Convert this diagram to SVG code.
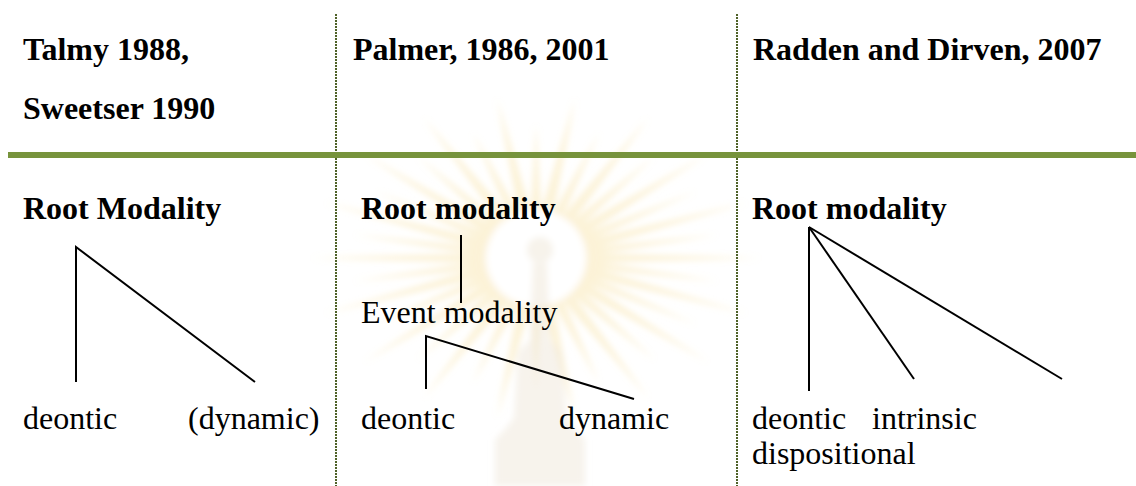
<svg xmlns="http://www.w3.org/2000/svg" width="1136" height="486" viewBox="0 0 1136 486">
  <defs>
    <style>
      .hd{font-family:"Liberation Serif","Times New Roman",serif;font-size:32px;font-weight:bold;fill:#000}
      .tx{font-family:"Liberation Serif","Times New Roman",serif;font-size:32px;fill:#000}
      .br{stroke:#000;stroke-width:2;fill:none}
      .rule{stroke:#4f6228;stroke-width:2;stroke-dasharray:2 1;fill:none}
    </style>
    <filter id="soft" x="-20%" y="-20%" width="140%" height="140%">
      <feGaussianBlur stdDeviation="3"/>
    </filter>
    <path id="rayL" d="M46,-7 L225,0 L46,7 Z"/>
    <path id="rayS" d="M46,-6 L185,0 L46,6 Z"/>
  </defs>

  <rect width="1136" height="486" fill="#ffffff"/>

  <!-- faint background emblem: sunburst with a spire -->
  <g id="emblem" filter="url(#soft)">
    <g transform="translate(536,258) scale(1,0.72)" fill="#f8e3a6" opacity="0.45">
      <use href="#rayL" transform="rotate(0)"/>
      <use href="#rayS" transform="rotate(10)"/>
      <use href="#rayL" transform="rotate(20)"/>
      <use href="#rayS" transform="rotate(30)"/>
      <use href="#rayL" transform="rotate(40)"/>
      <use href="#rayS" transform="rotate(50)"/>
      <use href="#rayL" transform="rotate(60)"/>
      <use href="#rayS" transform="rotate(70)"/>
      <use href="#rayL" transform="rotate(80)"/>
      <use href="#rayS" transform="rotate(90)"/>
      <use href="#rayL" transform="rotate(100)"/>
      <use href="#rayS" transform="rotate(110)"/>
      <use href="#rayL" transform="rotate(120)"/>
      <use href="#rayS" transform="rotate(130)"/>
      <use href="#rayL" transform="rotate(140)"/>
      <use href="#rayS" transform="rotate(150)"/>
      <use href="#rayL" transform="rotate(160)"/>
      <use href="#rayS" transform="rotate(170)"/>
      <use href="#rayL" transform="rotate(180)"/>
      <use href="#rayS" transform="rotate(190)"/>
      <use href="#rayL" transform="rotate(200)"/>
      <use href="#rayS" transform="rotate(210)"/>
      <use href="#rayL" transform="rotate(220)"/>
      <use href="#rayS" transform="rotate(230)"/>
      <use href="#rayL" transform="rotate(240)"/>
      <use href="#rayS" transform="rotate(250)"/>
      <use href="#rayL" transform="rotate(260)"/>
      <use href="#rayS" transform="rotate(270)"/>
      <use href="#rayL" transform="rotate(280)"/>
      <use href="#rayS" transform="rotate(290)"/>
      <use href="#rayL" transform="rotate(300)"/>
      <use href="#rayS" transform="rotate(310)"/>
      <use href="#rayL" transform="rotate(320)"/>
      <use href="#rayS" transform="rotate(330)"/>
      <use href="#rayL" transform="rotate(340)"/>
      <use href="#rayS" transform="rotate(350)"/>
    </g>
    <ellipse cx="536" cy="258" rx="50" ry="48" fill="#ffffff"/>
    <g fill="#f1eadc" opacity="0.55">
      <circle cx="540" cy="250" r="13"/>
      <path d="M533,263 L547,263 L550,340 L562,352 L566,418 L574,428 L585,440 L585,486 L495,486 L495,440 L506,428 L514,418 L518,352 L530,340 Z"/>
    </g>
  </g>

  <!-- column rules and header underline -->
  <g id="frame">
    <line class="rule" x1="336" y1="14" x2="336" y2="486"/>
    <line class="rule" x1="737" y1="14" x2="737" y2="486"/>
    <rect x="8" y="152" width="1128" height="6" fill="#77933c"/>
  </g>

  <!-- column headers -->
  <g id="head-talmy">
    <text class="hd" x="23" y="60">Talmy 1988,</text>
    <text class="hd" x="23" y="119">Sweetser 1990</text>
  </g>
  <g id="head-palmer">
    <text class="hd" x="353" y="60">Palmer, 1986, 2001</text>
  </g>
  <g id="head-radden">
    <text class="hd" x="753" y="60">Radden and Dirven, 2007</text>
  </g>

  <!-- Talmy / Sweetser tree -->
  <g id="t-root"><text class="hd" x="23" y="219">Root Modality</text></g>
  <g id="t-deontic"><text class="tx" x="23" y="429">deontic</text></g>
  <g id="t-dynamic"><text class="tx" x="188" y="429">(dynamic)</text></g>

  <!-- Palmer tree -->
  <g id="p-root"><text class="hd" x="361" y="219">Root modality</text></g>
  <g id="p-event"><text class="tx" x="361" y="323">Event modality</text></g>
  <g id="p-deontic"><text class="tx" x="361" y="429">deontic</text></g>
  <g id="p-dynamic"><text class="tx" x="559" y="429">dynamic</text></g>

  <!-- Radden / Dirven tree -->
  <g id="r-root"><text class="hd" x="752" y="219">Root modality</text></g>
  <g id="r-deontic"><text class="tx" x="752" y="429">deontic</text></g>
  <g id="r-intrinsic"><text class="tx" x="872" y="429">intrinsic</text></g>
  <g id="r-dispositional"><text class="tx" x="752" y="464">dispositional</text></g>

  <!-- branches -->
  <g id="connectors" class="br">
    <polyline class="br" points="76,382 76,247 255,382"/>
    <line class="br" x1="461" y1="235" x2="461" y2="303"/>
    <polyline class="br" points="426,389 426,336 634,399"/>
    <line class="br" x1="809" y1="227" x2="809" y2="391"/>
    <line class="br" x1="809" y1="227" x2="914" y2="379"/>
    <line class="br" x1="809" y1="227" x2="1062" y2="379"/>
  </g>
</svg>
